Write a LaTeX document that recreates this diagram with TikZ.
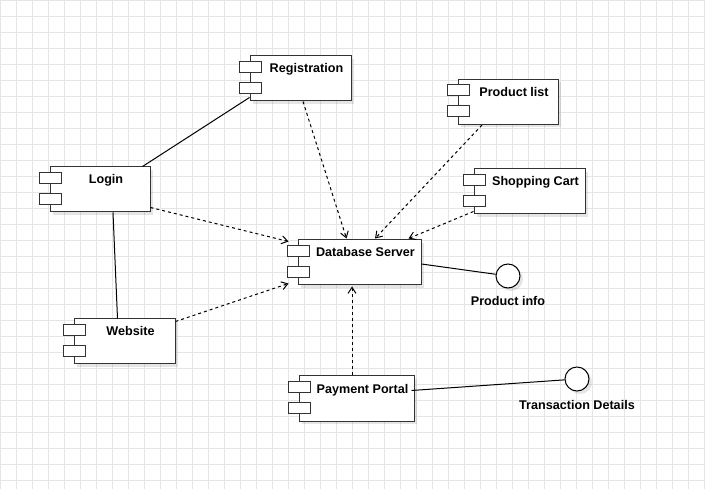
\documentclass[tikz,border=0pt]{standalone}
\usepackage{fontspec}
\setmainfont{Liberation Sans}
\usepackage{tikz}
\usetikzlibrary{positioning,arrows.meta,shadows}

\tikzset{
  comp/.style={draw=black!80, line width=1pt, fill=white, minimum height=45pt,
    inner ysep=0pt, text height=17pt, text depth=28pt,
    font=\bfseries\fontsize{12.6}{15}\selectfont,
    execute at begin node={\hspace*{12pt}},
    drop shadow={shadow xshift=3pt, shadow yshift=-3pt, fill=black, opacity=0.1}},
  port/.style={draw=black!80, line width=1pt, fill=white},
  iface/.style={circle, draw, fill=white, minimum size=24pt, inner sep=0pt,
    drop shadow={shadow xshift=3pt, shadow yshift=-3pt, fill=black, opacity=0.1}},
  ilabel/.style={font=\bfseries\fontsize{12.6}{15}\selectfont, inner sep=0pt},
  dep/.style={dash pattern=on 3pt off 3pt, -{Straight Barb[length=6pt,width=8pt]}},
  gridline/.style={black!10, line width=1pt}
}
\newcommand{\ports}[1]{%
  \draw[port] ([xshift=-10pt,yshift=-6pt]#1.north west) rectangle ++(22pt,-11pt);
  \draw[port] ([xshift=-10pt,yshift=-27pt]#1.north west) rectangle ++(22pt,-11pt);
}

\begin{document}
\begin{tikzpicture}[x=1pt,y=1pt,line width=1pt,every node/.style={on grid}]
    \useasboundingbox (0,0) rectangle (705,-489);
    \fill[white] (0,0) rectangle (705,-489);
    % grid
    \foreach \gx in {0,16,...,704}
      \draw[gridline] (\gx+0.5,0) -- (\gx+0.5,-489);
    \foreach \gy in {0,16,...,480}
      \draw[gridline] (0,-\gy-0.5) -- (705,-\gy-0.5);

    \node[comp, minimum width=123pt] (db) at (359.5,-262.5) {Database Server};
    \node[comp, minimum width=101pt, above left=184pt and 59pt of db] (reg) {Registration};
    \node[comp, minimum width=100pt, above right=160.5pt and 148.5pt of db] (plist) {Product list};
    \node[comp, minimum width=100pt, above left=73pt and 259.5pt of db] (login) {Login};
    \node[comp, minimum width=111pt, above right=71pt and 170pt of db] (cart) {Shopping Cart};
    \node[comp, minimum width=101pt, below left=79pt and 235pt of db] (web) {Website};
    \node[comp, minimum width=115pt, below left=136pt and 3pt of db] (pay) {Payment Portal};
    \foreach \c in {db,reg,plist,login,cart,web,pay} {\ports{\c}}

    \node[iface, below right=13.5pt and 148.5pt of db] (pinfo) {};
    \node[ilabel, below=25pt of pinfo] (pinfotext) {Product info};
    \node[iface, above right=19.5pt and 220.5pt of pay] (tdet) {};
    \node[ilabel, below=26pt of tdet] (tdettext) {Transaction Details};

    \draw ([yshift=4pt]reg.south west) -- ([xshift=-8pt]login.north east);
    \draw ([xshift=13pt]login.south) -- ([xshift=-7pt]web.north);
    \draw[dep] ([yshift=5pt]login.south east) -- ([xshift=-9pt,yshift=-2pt]db.north west);
    \draw[dep] ([yshift=-3pt]web.north east) -- ([xshift=-9pt,yshift=2pt]db.south west);
    \draw[dep] ([xshift=2.5pt]reg.south) -- ([xshift=-13pt,yshift=1pt]db.north);
    \draw[dep] ([xshift=-26pt]plist.south) -- ([xshift=15.5pt,yshift=1pt]db.north);
    \draw[dep] ([yshift=3pt]cart.south west) -- ([xshift=-13pt,yshift=1pt]db.north east);
    \draw[dep] ([xshift=-4.5pt]pay.north) -- ([xshift=-7.5pt,yshift=-1pt]db.south);
    \draw ([yshift=-1.5pt]db.east) -- (pinfo);
    \draw ([xshift=-3pt,yshift=8pt]pay.east) -- (tdet);
\end{tikzpicture}
\end{document}
